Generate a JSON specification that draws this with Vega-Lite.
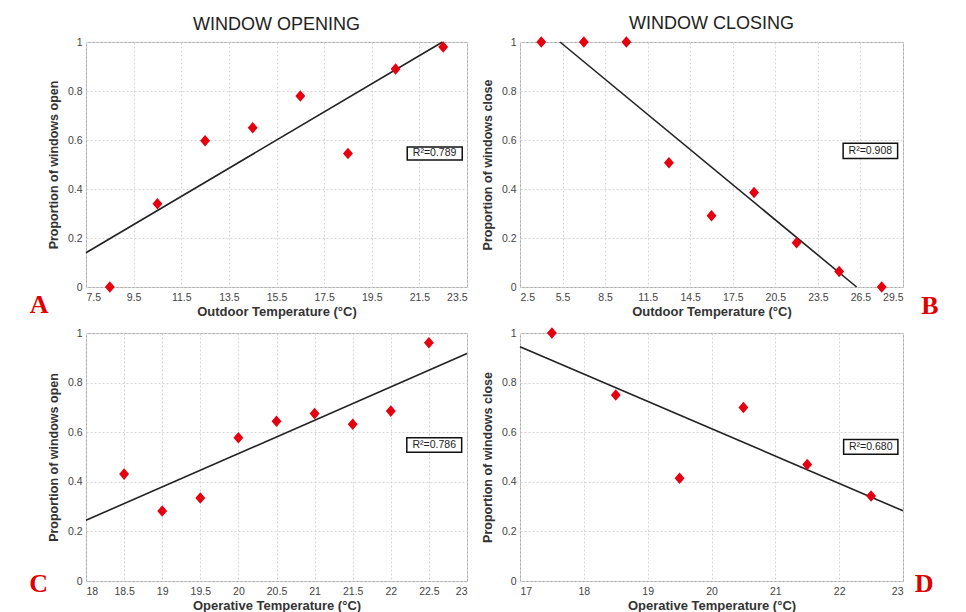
{
  "$schema": "https://vega.github.io/schema/vega-lite/v6.json",
  "background": "white",
  "padding": {"left": 28, "top": 14, "right": 0, "bottom": 0},
  "columns": 2,
  "spacing": {"row": 46, "column": 53},
  "bounds": "flush",
  "config": {
    "font": "Liberation Sans",
    "view": {"stroke": "#a8a8a8", "strokeWidth": 1},
    "axis": {
      "grid": true, "gridColor": "#d4d4d4", "gridDash": [2, 2], "gridWidth": 1,
      "ticks": false, "domain": false,
      "labelFont": "Liberation Sans", "labelFontSize": 10.5, "labelColor": "#444", "labelPadding": 4,
      "titleFont": "Liberation Sans", "titleFontSize": 12.5, "titleFontWeight": "bold", "titleColor": "#333"
    },
    "axisX": {"labelPadding": 5, "titlePadding": 3, "titleFontSize": 13},
    "axisY": {"titlePadding": 7},
    "title": {"font": "Liberation Sans", "fontSize": 18, "fontWeight": "normal", "color": "#222", "frame": "group", "anchor": "middle", "offset": 3}
  },
  "datasets": {
    "ptsA": [
      {"x": 8.5, "y": 0}, {"x": 10.5, "y": 0.34}, {"x": 12.5, "y": 0.597}, {"x": 14.5, "y": 0.65},
      {"x": 16.5, "y": 0.78}, {"x": 18.5, "y": 0.545}, {"x": 20.5, "y": 0.89}, {"x": 22.5, "y": 0.98}
    ],
    "lineA": [{"x": 7.5, "y": 0.14}, {"x": 22.47, "y": 1.0}],
    "boxA": [{"x": 20.99, "x2": 23.3, "y": 0.518, "y2": 0.571}],
    "labA": [{"x": 22.14, "y": 0.545, "label": "R²=0.789"}],
    "letA": [{"x": 5.53, "y": -0.073, "label": "A"}],
    "ptsB": [
      {"x": 4, "y": 1}, {"x": 7, "y": 1}, {"x": 10, "y": 1}, {"x": 13, "y": 0.507}, {"x": 16, "y": 0.291},
      {"x": 19, "y": 0.386}, {"x": 22, "y": 0.181}, {"x": 25, "y": 0.063}, {"x": 28, "y": 0}
    ],
    "lineB": [{"x": 5.32, "y": 1.0}, {"x": 26.23, "y": 0}],
    "boxB": [{"x": 25.28, "x2": 29.12, "y": 0.525, "y2": 0.587}],
    "labB": [{"x": 27.2, "y": 0.556, "label": "R²=0.908"}],
    "letB": [{"x": 31.39, "y": -0.078, "label": "B"}],
    "ptsC": [
      {"x": 18.5, "y": 0.431}, {"x": 19, "y": 0.282}, {"x": 19.5, "y": 0.335}, {"x": 20, "y": 0.578},
      {"x": 20.5, "y": 0.644}, {"x": 21, "y": 0.675}, {"x": 21.5, "y": 0.632}, {"x": 22, "y": 0.685}, {"x": 22.5, "y": 0.961}
    ],
    "lineC": [{"x": 18, "y": 0.245}, {"x": 23, "y": 0.917}],
    "boxC": [{"x": 22.21, "x2": 22.93, "y": 0.519, "y2": 0.578}],
    "labC": [{"x": 22.57, "y": 0.548, "label": "R²=0.786"}],
    "letC": [{"x": 17.38, "y": -0.012, "label": "C"}],
    "ptsD": [
      {"x": 17.5, "y": 1.0}, {"x": 18.5, "y": 0.75}, {"x": 19.5, "y": 0.414},
      {"x": 20.5, "y": 0.70}, {"x": 21.5, "y": 0.47}, {"x": 22.5, "y": 0.343}
    ],
    "lineD": [{"x": 17, "y": 0.945}, {"x": 23, "y": 0.283}],
    "boxD": [{"x": 22.07, "x2": 22.92, "y": 0.511, "y2": 0.571}],
    "labD": [{"x": 22.495, "y": 0.541, "label": "R²=0.680"}],
    "letD": [{"x": 23.33, "y": -0.012, "label": "D"}]
  },
  "concat": [
    {
      "width": 381, "height": 245,
      "title": {"text": "WINDOW OPENING"},
      "encoding": {
        "x": {"field": "x", "type": "quantitative", "scale": {"domain": [7.5, 23.5], "nice": false, "zero": false},
              "axis": {"title": "Outdoor Temperature (°C)", "values": [7.5, 9.5, 11.5, 13.5, 15.5, 17.5, 19.5, 21.5, 23.5], "format": ".1~f"}},
        "y": {"field": "y", "type": "quantitative", "scale": {"domain": [0, 1], "nice": false, "zero": false},
              "axis": {"title": "Proportion of windows open", "values": [0, 0.2, 0.4, 0.6, 0.8, 1], "format": ".1~f"}}
      },
      "layer": [
        {"data": {"name": "lineA"}, "mark": {"type": "line", "color": "#222", "strokeWidth": 1.6}},
        {"data": {"name": "ptsA"}, "mark": {"type": "point", "shape": "M0,-1.05L0.9,0L0,1.05L-0.9,0Z", "filled": true, "opacity": 1, "color": "#e6000f", "size": 121}},
        {"data": {"name": "boxA"}, "mark": {"type": "rect", "fill": "white", "stroke": "#111", "strokeWidth": 1.5},
         "encoding": {"x2": {"field": "x2"}, "y2": {"field": "y2"}}},
        {"data": {"name": "labA"}, "mark": {"type": "text", "fontSize": 10.5, "color": "#222", "align": "center", "baseline": "middle"},
         "encoding": {"text": {"field": "label"}}},
        {"data": {"name": "letA"}, "mark": {"type": "text", "font": "Liberation Serif", "fontWeight": "bold", "fontSize": 26, "color": "#e00000", "align": "center", "baseline": "middle"},
         "encoding": {"text": {"field": "label"}}}
      ]
    },
    {
      "width": 383, "height": 245,
      "title": {"text": "WINDOW CLOSING"},
      "encoding": {
        "x": {"field": "x", "type": "quantitative", "scale": {"domain": [2.5, 29.5], "nice": false, "zero": false},
              "axis": {"title": "Outdoor Temperature (°C)", "values": [2.5, 5.5, 8.5, 11.5, 14.5, 17.5, 20.5, 23.5, 26.5, 29.5], "format": ".1~f"}},
        "y": {"field": "y", "type": "quantitative", "scale": {"domain": [0, 1], "nice": false, "zero": false},
              "axis": {"title": "Proportion of windows close", "values": [0, 0.2, 0.4, 0.6, 0.8, 1], "format": ".1~f"}}
      },
      "layer": [
        {"data": {"name": "lineB"}, "mark": {"type": "line", "color": "#222", "strokeWidth": 1.6}},
        {"data": {"name": "ptsB"}, "mark": {"type": "point", "shape": "M0,-1.05L0.9,0L0,1.05L-0.9,0Z", "filled": true, "opacity": 1, "color": "#e6000f", "size": 121}},
        {"data": {"name": "boxB"}, "mark": {"type": "rect", "fill": "white", "stroke": "#111", "strokeWidth": 1.5},
         "encoding": {"x2": {"field": "x2"}, "y2": {"field": "y2"}}},
        {"data": {"name": "labB"}, "mark": {"type": "text", "fontSize": 10.5, "color": "#222", "align": "center", "baseline": "middle"},
         "encoding": {"text": {"field": "label"}}},
        {"data": {"name": "letB"}, "mark": {"type": "text", "font": "Liberation Serif", "fontWeight": "bold", "fontSize": 26, "color": "#e00000", "align": "center", "baseline": "middle"},
         "encoding": {"text": {"field": "label"}}}
      ]
    },
    {
      "width": 381, "height": 248,
      "encoding": {
        "x": {"field": "x", "type": "quantitative", "scale": {"domain": [18, 23], "nice": false, "zero": false},
              "axis": {"title": "Operative Temperature (°C)", "values": [18, 18.5, 19, 19.5, 20, 20.5, 21, 21.5, 22, 22.5, 23], "format": ".1~f"}},
        "y": {"field": "y", "type": "quantitative", "scale": {"domain": [0, 1], "nice": false, "zero": false},
              "axis": {"title": "Proportion of windows open", "values": [0, 0.2, 0.4, 0.6, 0.8, 1], "format": ".1~f"}}
      },
      "layer": [
        {"data": {"name": "lineC"}, "mark": {"type": "line", "color": "#222", "strokeWidth": 1.6}},
        {"data": {"name": "ptsC"}, "mark": {"type": "point", "shape": "M0,-1.05L0.9,0L0,1.05L-0.9,0Z", "filled": true, "opacity": 1, "color": "#e6000f", "size": 121}},
        {"data": {"name": "boxC"}, "mark": {"type": "rect", "fill": "white", "stroke": "#111", "strokeWidth": 1.5},
         "encoding": {"x2": {"field": "x2"}, "y2": {"field": "y2"}}},
        {"data": {"name": "labC"}, "mark": {"type": "text", "fontSize": 10.5, "color": "#222", "align": "center", "baseline": "middle"},
         "encoding": {"text": {"field": "label"}}},
        {"data": {"name": "letC"}, "mark": {"type": "text", "font": "Liberation Serif", "fontWeight": "bold", "fontSize": 26, "color": "#e00000", "align": "center", "baseline": "middle"},
         "encoding": {"text": {"field": "label"}}}
      ]
    },
    {
      "width": 383, "height": 248,
      "encoding": {
        "x": {"field": "x", "type": "quantitative", "scale": {"domain": [17, 23], "nice": false, "zero": false},
              "axis": {"title": "Operative Temperature (°C)", "values": [17, 18, 19, 20, 21, 22, 23], "format": ".1~f"}},
        "y": {"field": "y", "type": "quantitative", "scale": {"domain": [0, 1], "nice": false, "zero": false},
              "axis": {"title": "Proportion of windows close", "values": [0, 0.2, 0.4, 0.6, 0.8, 1], "format": ".1~f"}}
      },
      "layer": [
        {"data": {"name": "lineD"}, "mark": {"type": "line", "color": "#222", "strokeWidth": 1.6}},
        {"data": {"name": "ptsD"}, "mark": {"type": "point", "shape": "M0,-1.05L0.9,0L0,1.05L-0.9,0Z", "filled": true, "opacity": 1, "color": "#e6000f", "size": 121}},
        {"data": {"name": "boxD"}, "mark": {"type": "rect", "fill": "white", "stroke": "#111", "strokeWidth": 1.5},
         "encoding": {"x2": {"field": "x2"}, "y2": {"field": "y2"}}},
        {"data": {"name": "labD"}, "mark": {"type": "text", "fontSize": 10.5, "color": "#222", "align": "center", "baseline": "middle"},
         "encoding": {"text": {"field": "label"}}},
        {"data": {"name": "letD"}, "mark": {"type": "text", "font": "Liberation Serif", "fontWeight": "bold", "fontSize": 26, "color": "#e00000", "align": "center", "baseline": "middle"},
         "encoding": {"text": {"field": "label"}}}
      ]
    }
  ]
}
